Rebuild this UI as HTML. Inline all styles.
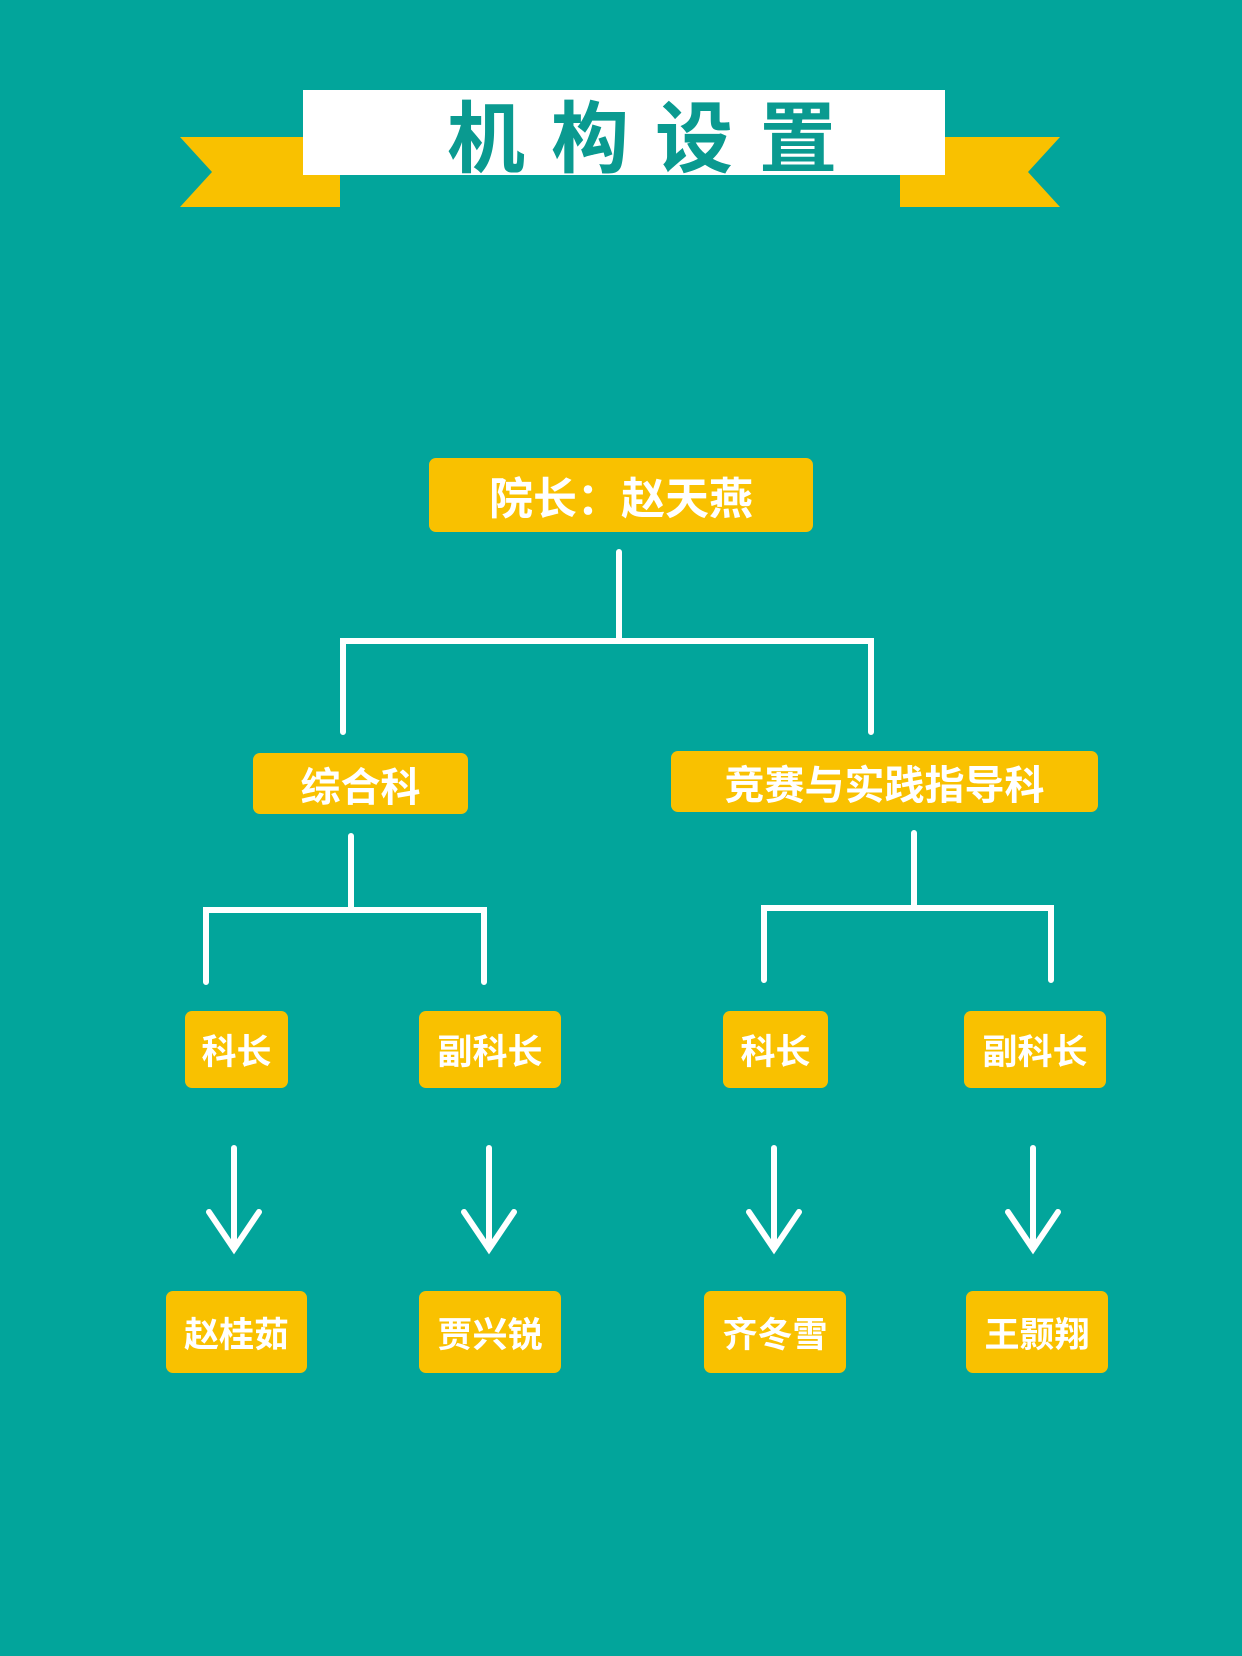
<!DOCTYPE html>
<html><head><meta charset="utf-8"><style>
html,body{margin:0;padding:0}
body{width:1242px;height:1656px;background:#02a59b;position:relative;overflow:hidden;font-family:"Liberation Sans","Noto Sans CJK SC",sans-serif}
.b{position:absolute;background:#f9c100;border-radius:7px;color:#fff;font-weight:bold;display:flex;align-items:center;justify-content:center;white-space:nowrap}
svg{position:absolute;left:0;top:0}
</style></head><body>
<svg width="1242" height="1656">
<polygon points="180,137 340,137 340,207 180,207 212,172" fill="#f9c100"/>
<polygon points="1060,137 900,137 900,207 1060,207 1028,172" fill="#f9c100"/>
<rect x="303" y="90" width="642" height="85" fill="#fff"/>
<g stroke="#fff" stroke-width="6" fill="none" stroke-linecap="round">
<path d="M619 552V641M343 732V641H871V732"/>
<path d="M351 836V910M206 982V910H484V982"/>
<path d="M914 833V908M764 980V908H1051V980"/>
<path d="M234 1148V1249M209 1212L234 1249L259 1212"/>
<path d="M489 1148V1249M464 1212L489 1249L514 1212"/>
<path d="M774 1148V1249M749 1212L774 1249L799 1212"/>
<path d="M1033 1148V1249M1008 1212L1033 1249L1058 1212"/>
</g>
</svg>
<div style="position:absolute;left:339px;top:90px;width:606px;height:85px;display:flex;align-items:center;justify-content:center;color:#0a9a90;font-weight:bold;font-size:78px;letter-spacing:26px;text-indent:26px">机构设置</div>
<div class="b" style="left:429px;top:458px;width:384px;height:74px;font-size:44px">院长：赵天燕</div>
<div class="b" style="left:253px;top:753px;width:215px;height:61px;font-size:40px">综合科</div>
<div class="b" style="left:671px;top:751px;width:427px;height:61px;font-size:40px">竞赛与实践指导科</div>
<div class="b" style="left:185px;top:1011px;width:103px;height:77px;font-size:35px">科长</div>
<div class="b" style="left:419px;top:1011px;width:142px;height:77px;font-size:35px">副科长</div>
<div class="b" style="left:723px;top:1011px;width:105px;height:77px;font-size:35px">科长</div>
<div class="b" style="left:964px;top:1011px;width:142px;height:77px;font-size:35px">副科长</div>
<div class="b" style="left:166px;top:1291px;width:141px;height:82px;font-size:35px">赵桂茹</div>
<div class="b" style="left:419px;top:1291px;width:142px;height:82px;font-size:35px">贾兴锐</div>
<div class="b" style="left:704px;top:1291px;width:142px;height:82px;font-size:35px">齐冬雪</div>
<div class="b" style="left:966px;top:1291px;width:142px;height:82px;font-size:35px">王颢翔</div>
</body></html>
